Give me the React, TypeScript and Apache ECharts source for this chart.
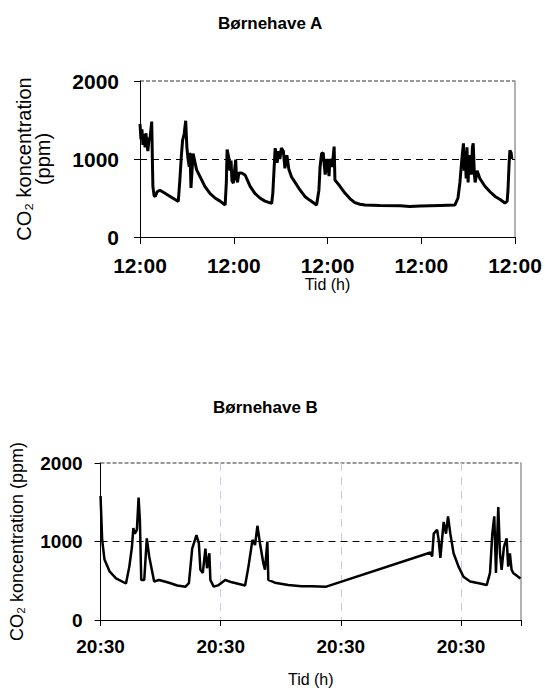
import React, { useEffect, useRef } from "react";
import * as echarts from "echarts";

// ---- Data (hours since first tick, CO2 ppm) ----
const titleA = "Børnehave A";
const titleB = "Børnehave B";
const tickLabelA = "12:00";
const tickLabelB = "20:30";
const xNameA = "Tid (h)";
const xNameB = "Tid (h)";
const yNameA = "CO₂ koncentration\n(ppm)";
const yNameB = "CO₂ koncentration (ppm)";

const aHours = [
  0, 0.25, 0.5, 0.75, 1.0, 1.3, 1.5, 1.8, 2.0, 2.3, 2.6, 3.0, 3.2, 3.3, 3.6, 3.9, 4.4, 5.1, 6.4, 7.7, 9.0, 9.8,
  10.2, 10.6, 10.9, 11.3, 11.7, 12.0, 12.3, 12.6, 12.8, 13.05, 13.6, 14.1, 14.5, 15.4, 16.6, 17.9, 19.2, 20.5, 21.8,
  22.1, 22.3, 22.8, 23.0, 23.3, 23.55, 23.9, 24.3, 24.5, 24.7, 24.96, 25.3, 26.0, 26.9, 28.2, 29.4, 30.7, 32.0, 33.7,
  34.0, 34.6, 35.1, 35.5, 35.8, 36.2, 36.7, 37.1, 37.6, 38.1, 38.8, 39.7, 41.0, 42.2, 43.5, 45.2,
  45.8, 46.1, 46.5, 46.9, 47.4, 47.9, 48.4, 48.6, 49.2, 49.7, 49.9, 50.4, 51.2, 52.5, 53.8, 55.0, 56.3, 57.6,
  61.4, 66.6, 69.1, 71.7, 76.8, 80.6, 81.4, 81.9, 82.4, 82.8, 83.0, 83.2, 83.5, 83.7, 84.0, 84.2, 84.5, 84.8, 85.1,
  85.3, 85.6, 85.8, 86.3, 87.0, 88.3, 89.6, 90.9, 92.2, 93.4, 94.0, 94.2, 94.5, 94.7, 95.0, 95.2,
];
const aPpm = [
  1450, 1250, 1380, 1180, 1320, 1150, 1330, 1200, 1100, 1250, 1280, 1480, 900, 650, 530, 520, 580, 600, 560, 520, 480, 455,
  730, 1050, 1240, 1320, 1490, 1150, 1000, 900, 1080, 630, 1070, 950, 860, 770, 650, 560, 500, 460, 410,
  700, 1120, 1000, 850, 980, 720, 690, 900, 990, 760, 700, 820, 820, 795, 650, 560, 500, 460, 430,
  560, 1140, 950, 1100, 1000, 1140, 1100, 880, 1050, 870, 770, 700, 600, 520, 470, 410,
  600, 900, 1070, 1080, 800, 1000, 780, 1000, 900, 1160, 730, 700, 650, 560, 490, 440, 420, 410,
  405, 400, 390, 398, 405, 410, 500, 700, 1000, 1200, 850, 1100, 750, 1150, 700, 1000, 1050, 800, 1150,
  1200, 800, 700, 850, 750, 650, 580, 520, 480, 435, 460, 600, 950, 1110, 1080, 1000,
];

const bHours = [
  0, 0.32, 0.79, 1.79, 3.09, 5.08, 5.75, 6.27, 6.55, 6.86, 7.26, 7.6, 7.86, 8.13, 8.73, 9.24, 9.72, 10.37, 10.71,
  11.7, 13.69, 15.33, 16.98, 17.65, 18.31, 19.16, 19.64, 19.95, 20.43, 20.95, 21.28, 21.74, 21.94, 22.61, 23.6,
  24.91, 26.24, 28.88, 29.55, 30.35, 30.86, 31.34, 31.86, 32.53, 32.85, 33.32, 33.52, 34.83, 37.49, 40.13, 42.11,
  45.09, 65.91, 66.25, 66.57, 67.24, 67.55, 67.89, 68.55, 69.02, 69.42, 69.88, 70.53, 71.52, 72.51, 73.84, 75.82,
  77.15, 77.81, 78.27, 78.66, 79.0, 79.46, 79.8, 80.13, 80.59, 81.13, 81.44, 81.78, 82.12, 82.44, 83.9,
];
const bPpm = [
  1580, 1020, 770, 620, 530, 465, 680, 930, 1170, 1100, 1150, 1560, 1270, 510, 510, 1040, 810, 600, 490,
  510, 475, 440, 425, 470, 910, 1080, 980, 640, 600, 910, 660, 850, 510, 425, 445,
  510, 480, 440, 680, 1020, 955, 1200, 975, 720, 640, 1000, 510, 475, 445, 430, 430,
  425, 860, 810, 1100, 1150, 1020, 790, 1250, 1100, 1320, 1100, 850, 680, 550, 490, 465,
  445, 600, 1100, 1320, 600, 1440, 850, 640, 930, 1040, 680, 850, 640, 600, 530,
];

const yMin = 0;
const yMax = 2000;
const yStep = 1000;
const refLevel = 1000;
const xStep = 24;
const xMaxA = 96;
const xMaxB = 84;

const FONT = "'Liberation Sans', Arial, Helvetica, sans-serif";

export default function App() {
  const ref = useRef<HTMLDivElement>(null);
  useEffect(() => {
    if (!ref.current) return;
    const chart = echarts.init(ref.current, undefined, { renderer: "svg" });
    const dataA = aHours.map((h, i) => [h, aPpm[i]]);
    const dataB = bHours.map((h, i) => [h, bPpm[i]]);

    const yCommon = (gridIndex: number, labelSize: number, name: string, nameSize: number, nameGap: number, margin: number) => ({
      type: "value",
      gridIndex,
      min: yMin,
      max: yMax,
      interval: yStep,
      name,
      nameLocation: "middle",
      nameGap,
      nameRotate: 90,
      nameTextStyle: { fontFamily: FONT, fontSize: nameSize, color: "#000", lineHeight: nameSize * 0.95 },
      axisLine: { show: true, lineStyle: { color: "#000", width: 1 } },
      axisTick: { show: true, inside: false, length: 6, lineStyle: { color: "#000" } },
      axisLabel: {
        fontFamily: FONT,
        fontSize: labelSize,
        fontWeight: "bold",
        color: "#000",
        margin,
        formatter: (v: number) => String(v),
      },
      splitLine: {
        show: true,
        lineStyle: { color: ["rgba(0,0,0,0)", "rgba(0,0,0,0)", "#999"], type: [4, 2], width: 2 },
      },
    });
    const yRight = (gridIndex: number) => ({
      type: "value",
      gridIndex,
      position: "right",
      min: yMin,
      max: yMax,
      interval: yStep,
      axisLine: { show: true, lineStyle: { color: "#999", width: 1.5 } },
      axisTick: { show: false },
      axisLabel: { show: false },
      splitLine: { show: false },
    });

    const refLine = {
      silent: true,
      symbol: ["none", "none"],
      label: { show: false },
      lineStyle: { color: "#000", type: [7, 5], width: 1 },
      data: [{ yAxis: refLevel }],
    };

    chart.setOption({
      animation: false,
      backgroundColor: "#fff",
      title: [
        {
          text: titleA,
          left: 218,
          top: 15,
          padding: 0,
          textStyle: { fontFamily: FONT, fontSize: 17, fontWeight: "bold", color: "#000" },
        },
        {
          text: titleB,
          left: 213,
          top: 399,
          padding: 0,
          textStyle: { fontFamily: FONT, fontSize: 17, fontWeight: "bold", color: "#000" },
        },
      ],
      grid: [
        { left: 140, top: 81, width: 375, height: 156, containLabel: false },
        { left: 98, top: 463, width: 423, height: 157, containLabel: false },
      ],
      xAxis: [
        {
          type: "value",
          gridIndex: 0,
          min: 0,
          max: xMaxA,
          interval: xStep,
          name: xNameA,
          nameLocation: "middle",
          nameGap: 38,
          nameTextStyle: { fontFamily: FONT, fontSize: 16, color: "#000" },
          axisLine: { show: true, onZero: false, lineStyle: { color: "#000", width: 1 } },
          axisTick: { show: true, inside: false, length: 7, lineStyle: { color: "#000" } },
          axisLabel: {
            fontFamily: FONT,
            fontSize: 21,
            fontWeight: "bold",
            color: "#000",
            margin: 18,
            formatter: () => tickLabelA,
          },
          splitLine: { show: false },
        },
        {
          type: "value",
          gridIndex: 1,
          min: 0,
          max: xMaxB,
          interval: xStep,
          name: xNameB,
          nameLocation: "middle",
          nameGap: 51,
          nameTextStyle: { fontFamily: FONT, fontSize: 16, color: "#000" },
          axisLine: { show: true, onZero: false, lineStyle: { color: "#000", width: 1 } },
          axisTick: { show: true, inside: false, length: 6, lineStyle: { color: "#000" } },
          axisLabel: {
            fontFamily: FONT,
            fontSize: 19,
            fontWeight: "bold",
            color: "#000",
            margin: 17,
            formatter: (v: number) => (v % xStep === 0 ? tickLabelB : ""),
          },
          splitLine: {
            show: true,
            lineStyle: {
              color: ["rgba(0,0,0,0)", "#c8c8f4", "#c8c8f4", "#c8c8f4", "rgba(0,0,0,0)"],
              type: [8, 6],
              width: 1,
            },
          },
        },
      ],
      yAxis: [
        yCommon(0, 21, yNameA, 20, 88, 21),
        yCommon(1, 19, yNameB, 18, 75, 18),
        yRight(0),
        yRight(1),
      ],
      series: [
        {
          type: "line",
          xAxisIndex: 0,
          yAxisIndex: 0,
          data: dataA,
          showSymbol: false,
          symbol: "none",
          lineStyle: { color: "#000", width: 3 },
          markLine: refLine,
          z: 5,
        },
        {
          type: "line",
          xAxisIndex: 1,
          yAxisIndex: 1,
          data: dataB,
          showSymbol: false,
          symbol: "none",
          lineStyle: { color: "#000", width: 2.5 },
          markLine: refLine,
          z: 5,
        },
      ],
    });
    return () => chart.dispose();
  }, []);
  return (
    <div
      ref={ref}
      style={{ position: "absolute", left: 0, top: 0, width: 545, height: 690, background: "#fff" }}
    />
  );
}
